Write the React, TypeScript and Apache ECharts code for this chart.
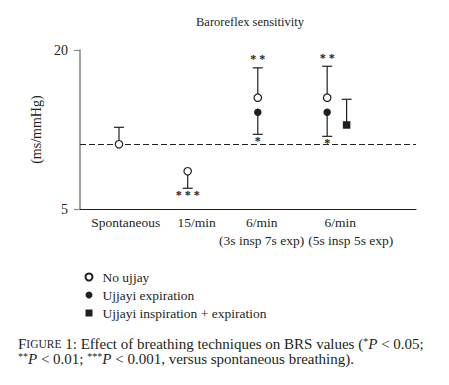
import React, { useEffect, useRef } from "react";
import * as echarts from "echarts";

const FONT = "'Liberation Serif', 'DejaVu Serif', serif";
const INK = "#231f20";

const title = "Baroreflex sensitivity";
const yName = "(ms/mmHg)";
const yTicks = [5, 20];

// category label text and positions on the numeric x scale
const catLine1 = ["Spontaneous", "15/min", "6/min", "6/min"];
const catLine1Pos = [1.097, 2.12, 3.056, 4.19];
const catLine2 = ["(3s insp 7s exp)", "(5s insp 5s exp)"];
const catLine2Pos = [3.056, 4.34];

// series: x position, mean, error-bar end, significance
const noUjjayX = [1, 1.99, 3, 4];
const noUjjayY = [11.12, 8.58, 15.51, 15.51];
const noUjjayErr = [12.72, 6.98, 18.32, 18.47];
const noUjjaySig = ["", "* * *", "* *", "* *"];

const expX = [3, 4];
const expY = [14.13, 14.13];
const expErr = [12.06, 11.87];
const expSig = ["*", "*"];

const inspExpX = [4.28];
const inspExpY = [12.94];
const inspExpErr = [15.36];
const inspExpSig = [""];

const baseline = noUjjayY[0];

function errorSeries(name: string, xs: number[], ys: number[], errs: number[], sig: string[]) {
  return {
    type: "custom",
    name,
    z: 2,
    data: xs.map((x, i) => [x, ys[i], errs[i]]),
    renderItem: (params: any, api: any) => {
      const i = params.dataIndex;
      const x = api.value(0);
      const y = api.value(1);
      const e = api.value(2);
      const p0 = api.coord([x, y]);
      const p1 = api.coord([x, e]);
      const up = e > y;
      const children: any[] = [
        { type: "line", shape: { x1: p0[0], y1: p0[1], x2: p1[0], y2: p1[1] }, style: { stroke: INK, lineWidth: 1.2 } },
        { type: "line", shape: { x1: p1[0] - 5, y1: p1[1], x2: p1[0] + 5, y2: p1[1] }, style: { stroke: INK, lineWidth: 1.2 } },
      ];
      if (sig[i]) {
        children.push({
          type: "text",
          x: p1[0],
          y: up ? p1[1] - 8.5 : p1[1] + 7,
          style: { text: sig[i], font: `bold 12px ${FONT}`, fill: INK, align: "center", verticalAlign: "middle" },
        });
      }
      return { type: "group", children };
    },
  };
}

export default function App() {
  const ref = useRef<HTMLDivElement>(null);
  useEffect(() => {
    const chart = echarts.init(ref.current!, null, { renderer: "svg" });
    const xMin = 0.438;
    const xMax = 5.28;
    const option: any = {
      animation: false,
      backgroundColor: "#fff",
      title: {
        text: title,
        left: 245,
        textAlign: "center",
        top: 10,
        textStyle: { fontFamily: FONT, fontSize: 12.5, fontWeight: "normal", color: INK },
      },
      grid: { left: 80, right: 33, top: 50, bottom: 175.7 },
      legend: {
        orient: "vertical",
        left: 79.5,
        top: 265,
        itemWidth: 7,
        itemHeight: 7,
        itemGap: 4,
        data: ["No ujjay", "Ujjayi expiration", "Ujjayi inspiration + expiration"],
        textStyle: { fontFamily: FONT, fontSize: 13.5, color: INK, padding: [0, 0, 0, 5] },
      },
      xAxis: [
        {
          type: "value",
          min: xMin,
          max: xMax,
          position: "bottom",
          axisLine: { show: true, lineStyle: { color: INK, width: 1.2 } },
          axisTick: { show: false },
          axisLabel: { show: false },
          splitLine: { show: false },
        },
        {
          type: "value",
          min: xMin,
          max: xMax,
          position: "bottom",
          axisLine: { show: false },
          axisTick: { show: false },
          splitLine: { show: false },
          axisLabel: {
            customValues: catLine1Pos,
            formatter: (v: number) => catLine1[catLine1Pos.indexOf(v)] ?? "",
            margin: 6,
            fontFamily: FONT,
            fontSize: 13.5,
            color: INK,
          },
        },
        {
          type: "value",
          min: xMin,
          max: xMax,
          position: "bottom",
          axisLine: { show: false },
          axisTick: { show: false },
          splitLine: { show: false },
          axisLabel: {
            customValues: catLine2Pos,
            formatter: (v: number) => catLine2[catLine2Pos.indexOf(v)] ?? "",
            margin: 24,
            fontFamily: FONT,
            fontSize: 13.5,
            color: INK,
          },
        },
      ],
      yAxis: {
        type: "value",
        min: 5,
        max: 20,
        name: yName,
        nameLocation: "middle",
        nameGap: 33,
        nameTextStyle: { fontFamily: FONT, fontSize: 14, color: INK },
        axisLine: { show: true, lineStyle: { color: "#8a8a8a", width: 1.6 } },
        axisTick: { show: true, length: 6, customValues: yTicks, lineStyle: { color: "#8a8a8a", width: 1.2 } },
        axisLabel: { customValues: yTicks, margin: 12, fontFamily: FONT, fontSize: 14, color: INK },
        splitLine: { show: false },
      },
      series: [
        errorSeries("err-no", noUjjayX, noUjjayY, noUjjayErr, noUjjaySig),
        errorSeries("err-exp", expX, expY, expErr, expSig),
        errorSeries("err-insp", inspExpX, inspExpY, inspExpErr, inspExpSig),
        {
          type: "scatter",
          name: "No ujjay",
          z: 3,
          symbol: "circle",
          symbolSize: 7.5,
          itemStyle: { color: "#fff", borderColor: INK, borderWidth: 1.2, opacity: 1 },
          data: noUjjayX.map((x, i) => [x, noUjjayY[i]]),
          markLine: {
            silent: true,
            symbol: "none",
            label: { show: false },
            lineStyle: { type: [6, 3], color: INK, width: 1.1 },
            data: [{ yAxis: baseline }],
            z: 1,
          },
        },
        {
          type: "scatter",
          name: "Ujjayi expiration",
          z: 3,
          symbol: "circle",
          symbolSize: 7.5,
          itemStyle: { color: INK, opacity: 1 },
          data: expX.map((x, i) => [x, expY[i]]),
        },
        {
          type: "scatter",
          name: "Ujjayi inspiration + expiration",
          z: 3,
          symbol: "rect",
          symbolSize: 7.5,
          itemStyle: { color: INK, opacity: 1 },
          data: inspExpX.map((x, i) => [x, inspExpY[i]]),
        },
      ],
      graphic: [
        {
          type: "text",
          left: 18,
          top: 336,
          style: {
            text:
              "{sc|F}{sc2|IGURE} 1: Effect of breathing techniques on BRS values ({sup|*}{it|P} < 0.05;\n{sup|**}{it|P} < 0.01; {sup|***}{it|P} < 0.001, versus spontaneous breathing).",
            font: `15px ${FONT}`,
            fill: INK,
            lineHeight: 15.5,
            rich: {
              sc: { fontFamily: FONT, fontSize: 15, fill: INK, lineHeight: 15.5 },
              sc2: { fontFamily: FONT, fontSize: 11.5, fill: INK, lineHeight: 15.5 },
              sup: { fontFamily: FONT, fontSize: 10, fill: INK, lineHeight: 15.5, verticalAlign: "top" },
              it: { fontFamily: FONT, fontSize: 15, fontStyle: "italic", fill: INK, lineHeight: 15.5 },
            },
          },
        },
      ],
    };
    chart.setOption(option);
    return () => chart.dispose();
  }, []);
  return <div ref={ref} style={{ width: 449, height: 385, margin: -8 }} />;
}
